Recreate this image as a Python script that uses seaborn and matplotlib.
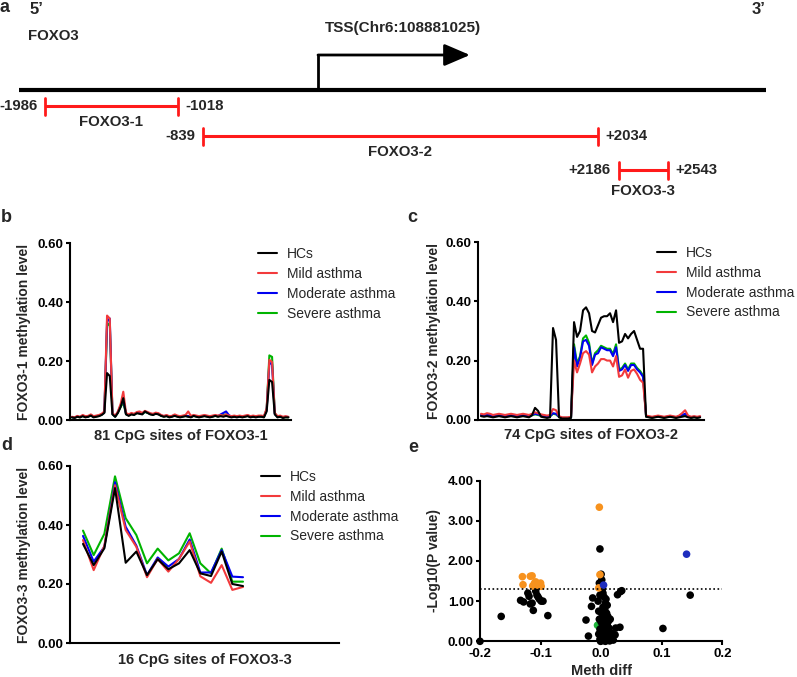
import numpy as np
import pandas as pd
import matplotlib
matplotlib.use('Agg')
import matplotlib.pyplot as plt
import seaborn as sns

groups = ['HCs', 'Mild asthma', 'Moderate asthma', 'Severe asthma']
palette = dict(zip(groups, ['#000000', '#F23A3C', '#0000F0', '#00B400']))

# panel a: amplicon positions relative to the TSS (bp)
amplicons = ['FOXO3-1', 'FOXO3-2', 'FOXO3-3']
amp_start = [-1986, -839, 2186]
amp_end = [-1018, 2034, 2543]
tss_label = 'TSS(Chr6:108881025)'

# panel b: 81 CpG sites of FOXO3-1
b_hcs = [0.010, 0.008, 0.012, 0.010, 0.014, 0.010, 0.012, 0.016, 0.010, 0.012,
         0.014, 0.018, 0.025, 0.160, 0.150, 0.020, 0.012, 0.025, 0.045, 0.075,
         0.020, 0.015, 0.020, 0.018, 0.024, 0.022, 0.020, 0.030, 0.025, 0.020,
         0.018, 0.022, 0.020, 0.015, 0.012, 0.014, 0.010, 0.012, 0.015, 0.012,
         0.010, 0.012, 0.014, 0.012, 0.010, 0.015, 0.012, 0.010, 0.012, 0.014,
         0.012, 0.010, 0.012, 0.015, 0.012, 0.014, 0.012, 0.015, 0.012, 0.010,
         0.012, 0.010, 0.012, 0.010, 0.012, 0.014, 0.010, 0.012, 0.010, 0.012,
         0.012, 0.010, 0.030, 0.137, 0.130, 0.020, 0.010, 0.012, 0.008, 0.010, 0.010]
b_mild = [0.012, 0.010, 0.015, 0.012, 0.018, 0.014, 0.015, 0.020, 0.014, 0.016,
          0.018, 0.022, 0.030, 0.355, 0.345, 0.025, 0.015, 0.030, 0.055, 0.097,
          0.025, 0.020, 0.025, 0.022, 0.028, 0.030, 0.025, 0.032, 0.028, 0.024,
          0.022, 0.026, 0.024, 0.018, 0.015, 0.018, 0.014, 0.015, 0.020, 0.016,
          0.014, 0.016, 0.018, 0.030, 0.015, 0.018, 0.016, 0.014, 0.016, 0.018,
          0.016, 0.014, 0.016, 0.018, 0.016, 0.018, 0.015, 0.020, 0.016, 0.014,
          0.016, 0.014, 0.016, 0.014, 0.016, 0.018, 0.014, 0.016, 0.014, 0.016,
          0.016, 0.014, 0.040, 0.205, 0.198, 0.025, 0.014, 0.016, 0.012, 0.014, 0.012]
b_mod = [0.011, 0.009, 0.013, 0.011, 0.016, 0.012, 0.013, 0.018, 0.012, 0.014,
         0.016, 0.020, 0.028, 0.335, 0.345, 0.022, 0.013, 0.028, 0.050, 0.070,
         0.022, 0.018, 0.022, 0.020, 0.026, 0.025, 0.022, 0.030, 0.026, 0.022,
         0.020, 0.024, 0.022, 0.016, 0.014, 0.016, 0.012, 0.014, 0.018, 0.014,
         0.012, 0.014, 0.016, 0.014, 0.012, 0.016, 0.014, 0.012, 0.014, 0.016,
         0.014, 0.012, 0.014, 0.016, 0.014, 0.020, 0.025, 0.030, 0.018, 0.012,
         0.014, 0.012, 0.014, 0.012, 0.014, 0.016, 0.012, 0.014, 0.012, 0.014,
         0.014, 0.012, 0.035, 0.195, 0.190, 0.022, 0.012, 0.014, 0.010, 0.012, 0.011]
b_sev = [0.010, 0.009, 0.012, 0.010, 0.015, 0.011, 0.012, 0.017, 0.011, 0.013,
         0.015, 0.019, 0.027, 0.320, 0.330, 0.021, 0.012, 0.026, 0.045, 0.060,
         0.021, 0.017, 0.021, 0.019, 0.025, 0.024, 0.021, 0.028, 0.025, 0.021,
         0.019, 0.023, 0.021, 0.015, 0.013, 0.015, 0.011, 0.013, 0.017, 0.013,
         0.011, 0.013, 0.015, 0.013, 0.011, 0.015, 0.013, 0.011, 0.013, 0.015,
         0.013, 0.011, 0.013, 0.015, 0.013, 0.016, 0.018, 0.020, 0.015, 0.011,
         0.013, 0.011, 0.013, 0.011, 0.013, 0.015, 0.011, 0.013, 0.011, 0.013,
         0.013, 0.011, 0.038, 0.220, 0.215, 0.024, 0.011, 0.013, 0.009, 0.011, 0.010]

# panel c: 74 CpG sites of FOXO3-2
c_hcs = [0.012, 0.010, 0.012, 0.010, 0.008, 0.010, 0.012, 0.010, 0.008, 0.010,
         0.012, 0.010, 0.008, 0.010, 0.012, 0.010, 0.008, 0.015, 0.040, 0.030,
         0.010, 0.008, 0.006, 0.008, 0.310, 0.270, 0.008, 0.004, 0.004, 0.004, 0.006,
         0.33, 0.28, 0.30, 0.37, 0.38, 0.36, 0.30, 0.295, 0.32, 0.345, 0.35, 0.35,
         0.36, 0.33, 0.37, 0.26, 0.265, 0.29, 0.275, 0.29, 0.30, 0.27, 0.24, 0.24,
         0.010, 0.008, 0.006, 0.008, 0.010, 0.008, 0.006, 0.008, 0.010, 0.008,
         0.006, 0.008, 0.010, 0.012, 0.008, 0.006, 0.008, 0.006, 0.008]
c_mild = [0.020, 0.018, 0.022, 0.020, 0.016, 0.018, 0.020, 0.018, 0.016, 0.018,
          0.020, 0.018, 0.016, 0.018, 0.020, 0.018, 0.016, 0.020, 0.025, 0.022,
          0.018, 0.016, 0.014, 0.016, 0.036, 0.032, 0.012, 0.008, 0.008, 0.008, 0.010,
          0.20, 0.16, 0.19, 0.225, 0.232, 0.22, 0.16, 0.18, 0.19, 0.205, 0.205, 0.20,
          0.20, 0.18, 0.215, 0.145, 0.15, 0.17, 0.142, 0.165, 0.17, 0.155, 0.135, 0.125,
          0.014, 0.012, 0.010, 0.012, 0.014, 0.012, 0.010, 0.012, 0.014, 0.012,
          0.010, 0.014, 0.022, 0.032, 0.014, 0.010, 0.012, 0.010, 0.012]
c_mod = [0.016, 0.014, 0.017, 0.015, 0.012, 0.014, 0.016, 0.014, 0.012, 0.014,
         0.016, 0.014, 0.012, 0.014, 0.016, 0.014, 0.012, 0.016, 0.020, 0.018,
         0.014, 0.012, 0.010, 0.012, 0.022, 0.020, 0.010, 0.006, 0.006, 0.006, 0.008,
         0.245, 0.18, 0.21, 0.265, 0.27, 0.25, 0.185, 0.22, 0.225, 0.245, 0.24, 0.235,
         0.235, 0.215, 0.245, 0.165, 0.17, 0.185, 0.165, 0.185, 0.185, 0.17, 0.16, 0.145,
         0.012, 0.010, 0.008, 0.010, 0.012, 0.010, 0.008, 0.010, 0.012, 0.010,
         0.008, 0.012, 0.016, 0.020, 0.012, 0.008, 0.010, 0.008, 0.010]
c_sev = [0.015, 0.013, 0.016, 0.014, 0.011, 0.013, 0.015, 0.013, 0.011, 0.013,
         0.015, 0.013, 0.011, 0.013, 0.015, 0.013, 0.011, 0.015, 0.018, 0.016,
         0.013, 0.011, 0.009, 0.011, 0.020, 0.018, 0.009, 0.006, 0.006, 0.006, 0.008,
         0.255, 0.19, 0.215, 0.275, 0.285, 0.26, 0.19, 0.225, 0.235, 0.25, 0.245, 0.24,
         0.24, 0.222, 0.255, 0.17, 0.175, 0.19, 0.17, 0.19, 0.19, 0.175, 0.165, 0.15,
         0.011, 0.009, 0.007, 0.009, 0.011, 0.009, 0.007, 0.009, 0.011, 0.009,
         0.007, 0.011, 0.014, 0.018, 0.011, 0.007, 0.009, 0.007, 0.009]

# panel d: 16 CpG sites of FOXO3-3
d_hcs = [0.336, 0.264, 0.321, 0.525, 0.272, 0.310, 0.230, 0.284,
         0.250, 0.270, 0.315, 0.236, 0.227, 0.310, 0.200, 0.193]
d_mild = [0.349, 0.247, 0.329, 0.535, 0.383, 0.326, 0.223, 0.285,
          0.242, 0.285, 0.344, 0.226, 0.204, 0.264, 0.180, 0.190]
d_mod = [0.363, 0.276, 0.326, 0.545, 0.394, 0.330, 0.230, 0.290,
         0.259, 0.285, 0.351, 0.239, 0.239, 0.315, 0.225, 0.223]
d_sev = [0.381, 0.298, 0.370, 0.565, 0.423, 0.366, 0.270, 0.320,
         0.280, 0.304, 0.372, 0.270, 0.236, 0.320, 0.208, 0.208]

# panel e: volcano plot (meth diff, -log10 p)
ns_x = [-0.200, -0.165, -0.133, -0.128, -0.121, -0.119, -0.117, -0.114, -0.112,
        -0.108, -0.106, -0.104, -0.102, -0.099, -0.096, -0.088,
        -0.002, 0.000, 0.001, -0.003, 0.002, 0.003, -0.002, 0.005, 0.008, -0.005,
        0.007, 0.010, 0.003, 0.006, -0.004, 0.009, 0.002, 0.011, 0.005, -0.003,
        0.008, 0.012, 0.000, 0.004, 0.010, 0.002, 0.007, 0.013, -0.002, 0.005,
        0.010, 0.001, 0.008, -0.004, 0.004, 0.011, 0.000, 0.006, -0.002, 0.009,
        0.003, 0.014, -0.001, 0.007,
        -0.014, -0.016, -0.025, -0.021, 0.027, 0.032, 0.034, 0.024, 0.031, 0.020,
        0.023, 0.102, 0.147, 0.017, 0.015]
ns_y = [0.00, 0.62, 1.02, 0.98, 1.20, 1.12, 0.93, 0.95, 0.77,
        1.25, 1.15, 1.10, 1.05, 1.00, 1.00, 0.64,
        2.30, 1.67, 1.53, 1.45, 1.30, 1.20, 1.15, 1.10, 1.05, 1.00,
        0.95, 0.90, 0.85, 0.80, 0.75, 0.70, 0.65, 0.62, 0.58, 0.55,
        0.52, 0.50, 0.48, 0.45, 0.42, 0.38, 0.35, 0.33, 0.30, 0.28,
        0.25, 0.22, 0.20, 0.18, 0.15, 0.12, 0.10, 0.08, 0.05, 0.04,
        0.02, 0.01, 0.00, 0.00,
        1.08, 0.87, 0.53, 0.13, 1.16, 1.24, 1.26, 0.33, 0.35, 0.03,
        0.16, 0.32, 1.15, 0.20, 0.55]
sig1_x = [-0.130, -0.129, -0.117, -0.114, -0.113, -0.108, -0.105, -0.100, -0.099,
          -0.110, -0.003, -0.002, -0.004]
sig1_y = [1.61, 1.41, 1.62, 1.63, 1.38, 1.48, 1.40, 1.45, 1.37,
          1.45, 3.34, 1.66, 1.33]
sig2_x = [0.141, 0.004]
sig2_y = [2.17, 1.40]
sig3_x = [-0.006]
sig3_y = [0.40]
p_cut = 0.05

W, H = 797, 677
sns.set_style('ticks')
plt.rcParams['font.family'] = ['Liberation Sans', 'DejaVu Sans']
plt.rcParams['font.weight'] = 'bold'
plt.rcParams['axes.labelweight'] = 'bold'
plt.rcParams['axes.unicode_minus'] = False
plt.rcParams['axes.linewidth'] = 1.5
plt.rcParams['axes.edgecolor'] = 'black'
plt.rcParams['xtick.color'] = 'black'
plt.rcParams['ytick.color'] = 'black'

fig = plt.figure(figsize=(W / 100, H / 100), dpi=100)


def px_axes(x0, y0, x1, y1):
    return fig.add_axes([x0 / W, 1 - y1 / H, (x1 - x0) / W, (y1 - y0) / H])


def melt(series):
    parts = []
    for g, vals in zip(groups, series):
        parts.append(pd.DataFrame({'site': np.arange(1, len(vals) + 1),
                                   'level': vals, 'group': g}))
    return pd.concat(parts, ignore_index=True)


def style_axes(ax):
    sns.despine(ax=ax)
    ax.tick_params(axis='both', length=3, width=1.5, pad=1.5, labelsize=9.5)


def line_panel(ax, series, xlim, ylabel, xlabel, leg_xy, ypad, xpad):
    df = melt(series)
    sns.lineplot(data=df, x='site', y='level', hue='group',
                 hue_order=groups[::-1], palette=palette, linewidth=1.5,
                 errorbar=None, ax=ax)
    leg = ax.get_legend()
    handles = leg.legend_handles[::-1]
    labels = [t.get_text() for t in leg.get_texts()][::-1]
    leg.remove()
    fig.legend(handles, labels, loc='upper left',
               bbox_to_anchor=(leg_xy[0] / W, 1 - leg_xy[1] / H),
               frameon=False, borderpad=0, borderaxespad=0,
               handlelength=1.35, handletextpad=0.75, labelspacing=0.42,
               prop={'weight': 'normal', 'size': 10})
    ax.set_xlim(*xlim)
    ax.set_ylim(0, 0.6)
    ax.set_yticks([0, 0.2, 0.4, 0.6])
    ax.set_yticklabels(['%.2f' % v for v in [0, 0.2, 0.4, 0.6]])
    ax.set_xticks([])
    ax.set_ylabel(ylabel, fontsize=10, labelpad=ypad)
    ax.set_xlabel(xlabel, fontsize=10.5, labelpad=xpad)
    style_axes(ax)


# ---- panel a: gene schematic ----
ax = fig.add_axes([0, 1 - 200 / H, 1, 200 / H])
scale = 0.1375  # px per bp
ax.set_xlim(-318 / scale, (W - 318) / scale)
ax.set_ylim(200, 0)
ax.axis('off')
ax.plot([-2175, 3258], [90, 90], color='black', lw=3, solid_capstyle='butt')
ax.plot([0, 0], [90, 55], color='black', lw=2, solid_capstyle='projecting')
ax.annotate('', xy=(1105, 55), xytext=(0, 55),
            arrowprops=dict(arrowstyle='-|>,head_length=1.05,head_width=0.45',
                            color='black', lw=2, mutation_scale=15,
                            shrinkA=0, shrinkB=0))
ax.text(50, 28, tss_label, ha='left', va='center', fontsize=11)
red = '#FF1A1A'
for name, s, e, y, dy in zip(amplicons, amp_start, amp_end,
                             [106, 136, 170], [11.5, 11.5, 15]):
    ax.plot([s, e], [y, y], color=red, lw=2.2, solid_capstyle='butt')
    ax.plot([s, s], [y - 8.5, y + 8.5], color=red, lw=2)
    ax.plot([e, e], [y - 8.5, y + 8.5], color=red, lw=2)
    ax.annotate('%+d' % s, xy=(s, y), xytext=(-5.5, 0), textcoords='offset points',
                ha='right', va='center', fontsize=10.8)
    ax.annotate('%+d' % e, xy=(e, y), xytext=(5.5, 0), textcoords='offset points',
                ha='left', va='center', fontsize=10.8)
    ax.annotate(name, xy=((s + e) / 2, y), xytext=(0, -dy),
                textcoords='offset points', ha='center', va='center',
                fontsize=10.8)
fig.text(30 / W, 1 - 10 / H, '5\u2019', fontsize=12, va='center')
fig.text(752 / W, 1 - 10 / H, '3\u2019', fontsize=12, va='center')
fig.text(28 / W, 1 - 36 / H, 'FOXO3', fontsize=10.8, va='center')

# ---- panels b, c, d ----
ax_b = px_axes(70, 243.3, 291, 420.3)
line_panel(ax_b, [b_hcs, b_mild, b_mod, b_sev], (0.3, 82),
           'FOXO3-1 methylation level', '81 CpG sites of FOXO3-1',
           (258, 247), 5, 6)
ax_c = px_axes(478, 242.3, 704, 419.7)
line_panel(ax_c, [c_hcs, c_mild, c_mod, c_sev], (0.0, 75.3),
           'FOXO3-2 methylation level', '74 CpG sites of FOXO3-2',
           (657, 246), 3.5, 6)
ax_d = px_axes(70, 466, 339, 643)
line_panel(ax_d, [d_hcs, d_mild, d_mod, d_sev], (-0.22, 25),
           'FOXO3-3 methylation level', '16 CpG sites of FOXO3-3',
           (261, 470), 5, 7)

# ---- panel e: volcano ----
ax_e = px_axes(480, 480.7, 722.3, 641.3)
vol = pd.DataFrame({
    'diff': sig3_x + ns_x + sig1_x + sig2_x,
    'logp': sig3_y + ns_y + sig1_y + sig2_y,
    'cls': ['sig3'] * len(sig3_x) + ['ns'] * len(ns_x)
           + ['sig1'] * len(sig1_x) + ['sig2'] * len(sig2_x),
})
sns.scatterplot(data=vol, x='diff', y='logp', hue='cls',
                palette={'ns': 'black', 'sig1': '#F7921E', 'sig2': '#1E2DBE',
                         'sig3': '#1DB33A'},
                s=30, linewidth=0, legend=False, ax=ax_e)
for coll in ax_e.collections:
    coll.set_clip_on(False)
ax_e.axhline(-np.log10(p_cut), color='black', lw=1.2, ls=(0, (1, 1.5)))
ax_e.set_xlim(-0.2, 0.2)
ax_e.set_ylim(0, 4)
ax_e.set_xticks([-0.2, -0.1, 0, 0.1, 0.2])
ax_e.set_xticklabels(['%.1f' % v for v in [-0.2, -0.1, 0, 0.1, 0.2]])
ax_e.set_yticks([0, 1, 2, 3, 4])
ax_e.set_yticklabels(['%.2f' % v for v in [0, 1, 2, 3, 4]])
ax_e.set_xlabel('Meth diff', fontsize=10.5, labelpad=3)
ax_e.set_ylabel('-Log10(P value)', fontsize=10, labelpad=5)
style_axes(ax_e)

for letter, x, y in [('a', 0, 7), ('b', 1, 218), ('c', 407, 218),
                     ('d', 1, 446), ('e', 408, 447)]:
    fig.text(x / W, 1 - y / H, letter, fontsize=13, va='center', ha='left')

fig.savefig('out.png', dpi=100)
